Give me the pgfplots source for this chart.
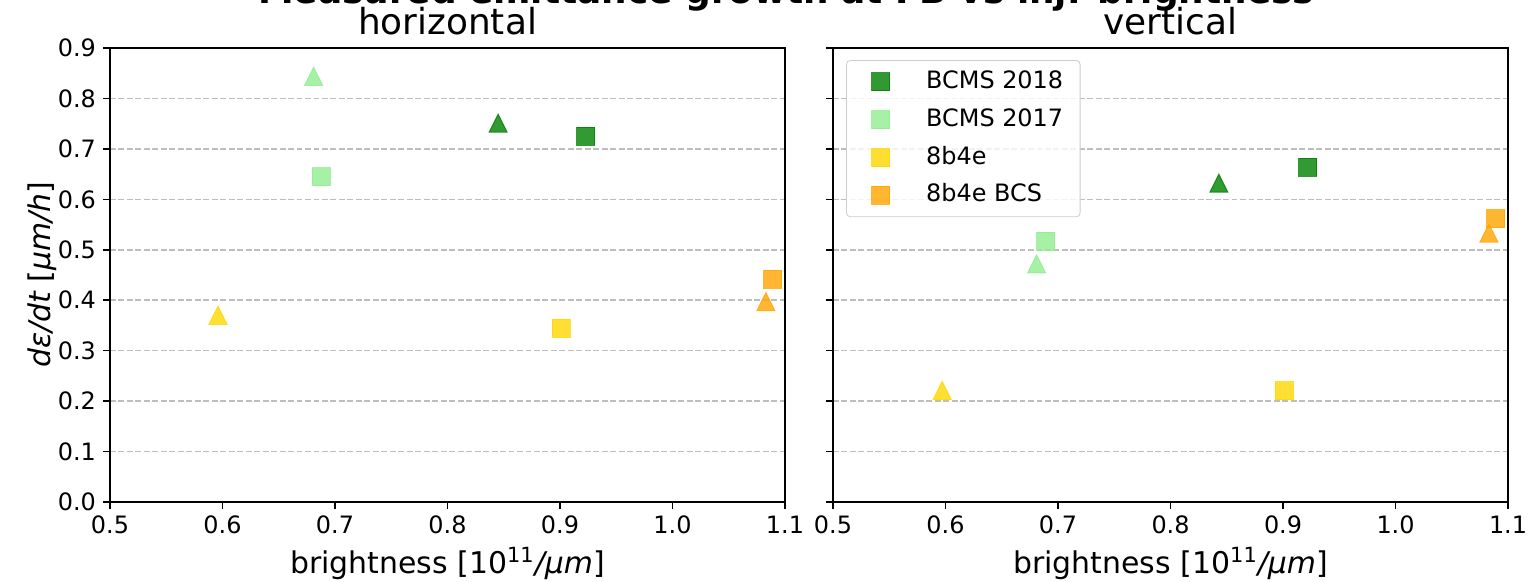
\documentclass[border=0pt]{standalone}
\usepackage{fontspec}
\setmainfont{DejaVu Sans}
\usepackage{pgfplots}
\pgfplotsset{compat=1.18}
\definecolor{cg}{RGB}{0,128,0}
\definecolor{clg}{RGB}{144,238,144}
\definecolor{cgold}{RGB}{255,215,0}
\definecolor{corange}{RGB}{255,165,0}
\definecolor{gridc}{RGB}{190,190,190}
\pgfdeclareplotmark{mtri}{%
 \pgfpathmoveto{\pgfqpoint{0pt}{\pgfplotmarksize}}%
 \pgfpathlineto{\pgfqpoint{-\pgfplotmarksize}{-\pgfplotmarksize}}%
 \pgfpathlineto{\pgfqpoint{\pgfplotmarksize}{-\pgfplotmarksize}}%
 \pgfpathclose\pgfusepathqfillstroke}
\pgfplotsset{
 sq/.style={only marks, mark=square*, mark size=4.5bp, color=#1,
   mark options={fill=#1, draw=#1, opacity=0.8, line width=0.5bp},
   legend image code/.code={\path (0bp,0bp) (28bp,0bp); \draw[##1] plot coordinates {(14bp,0bp)};}},
 tri/.style={only marks, mark=mtri, mark size=4.5bp, color=#1,
   mark options={fill=#1, draw=#1, opacity=0.8, line width=0.5bp}, forget plot},
 myaxis/.style={
   scale only axis, width=337.5bp, height=227bp,
   xmin=0.5, xmax=1.1, ymin=0, ymax=0.9,
   xtick={0.5,0.6,...,1.1}, ytick={0,0.1,...,0.9},
   xticklabel style={/pgf/number format/.cd, fixed, fixed zerofill, precision=1},
   yticklabel style={/pgf/number format/.cd, fixed, fixed zerofill, precision=1},
   /pgf/number format/assume math mode=true,
   tick label style={font=\fontsize{12}{14}\selectfont},
   tick align=outside, major tick length=3.5bp,
   xtick pos=lower, ytick pos=lower,
   every tick/.style={black, line width=0.8bp},
   axis line style={line width=0.8bp, black},
   ymajorgrids,
   major grid style={gridc, line width=0.8bp, dash pattern=on 2.96bp off 1.28bp},
   title style={at={(0.5,1)}, anchor=base, yshift=1bp, font=\fontsize{18}{20}\selectfont},
   xlabel style={at={(axis description cs:0.5,0)}, anchor=base, yshift=-35.5bp, font=\fontsize{15}{17}\selectfont},
   ylabel style={at={(axis description cs:0,0.5)}, anchor=base, yshift=29.5bp, font=\fontsize{15}{17}\selectfont},
   xlabel={brightness [10\textsuperscript{11}{\itshape /μm}]},
 }
}
\begin{document}
\begin{tikzpicture}
\begin{axis}[myaxis, at={(0,0)}, anchor=south west, title={horizontal},
  ylabel={{\itshape dε/dt} [{\itshape μm/h}]}]
\addplot[sq=cg] coordinates {(0.923,0.725)};
\addplot[tri=cg] coordinates {(0.845,0.751)};
\addplot[sq=clg] coordinates {(0.688,0.645)};
\addplot[tri=clg] coordinates {(0.681,0.844)};
\addplot[sq=cgold] coordinates {(0.901,0.344)};
\addplot[tri=cgold] coordinates {(0.596,0.370)};
\addplot[sq=corange] coordinates {(1.089,0.442)};
\addplot[tri=corange] coordinates {(1.083,0.397)};
\end{axis}
\begin{axis}[myaxis, at={(361.5bp,0)}, anchor=south west, title={vertical},
  yticklabels={},
  legend cell align=left,
  legend style={at={(0,1)}, anchor=north west, xshift=6.5bp, yshift=-6bp,
    draw=black!20, rounded corners=2bp, fill=white, fill opacity=0.8, text opacity=1,
    inner xsep=3bp, inner ysep=5bp, row sep=7.4bp, column sep=0bp,
    font=\fontsize{12}{14}\selectfont,
    nodes={inner sep=0pt, text height=9bp, text depth=2.5bp},
    /tikz/every odd column/.style={column sep=8.5bp}}]
\addplot[sq=cg] coordinates {(0.922,0.664)};
\addlegendentry{BCMS 2018\kern5.5bp\relax}
\addplot[tri=cg] coordinates {(0.843,0.632)};
\addplot[sq=clg] coordinates {(0.689,0.517)};
\addlegendentry{BCMS 2017}
\addplot[tri=clg] coordinates {(0.681,0.472)};
\addplot[sq=cgold] coordinates {(0.901,0.221)};
\addlegendentry{8b4e}
\addplot[tri=cgold] coordinates {(0.597,0.221)};
\addplot[sq=corange] coordinates {(1.089,0.562)};
\addlegendentry{8b4e BCS}
\addplot[tri=corange] coordinates {(1.083,0.533)};
\end{axis}
\node[anchor=base, font=\bfseries\fontsize{18}{20}\selectfont] at (338bp,249bp) {Measured emittance growth at FB vs inj. brightness};
\pgfresetboundingbox
\useasboundingbox (-55bp,-40bp) rectangle (710bp,251bp);
\end{tikzpicture}
\end{document}
